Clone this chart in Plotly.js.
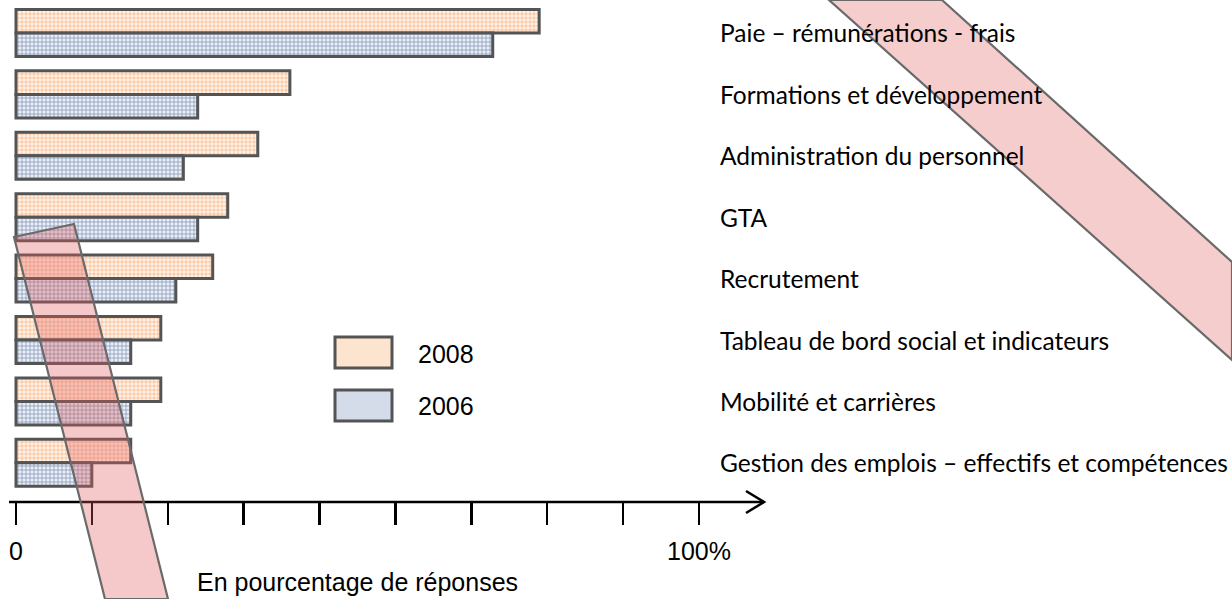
<!DOCTYPE html>
<html>
<head>
<meta charset="utf-8">
<script src="https://cdn.plot.ly/plotly-3.0.1.min.js"></script>
<style>html,body{margin:0;padding:0;background:#fff;}#chart{width:1232px;height:599px;}</style>
</head>
<body>
<div id="chart"></div>
<script>
// ---- data ----
const categories = [
  "Paie – rémunérations - frais",
  "Formations et développement",
  "Administration du personnel",
  "GTA",
  "Recrutement",
  "Tableau de bord social et indicateurs",
  "Mobilité et carrières",
  "Gestion des emplois – effectifs et compétences"
];
const seriesNames = ["2008", "2006"];
const values2008 = [76.6, 40.1, 35.4, 31.0, 28.8, 21.2, 21.2, 16.8];
const values2006 = [69.8, 26.6, 24.5, 26.6, 23.4, 16.8, 16.8, 11.1];
const tickLabels = ["0", "", "", "", "", "", "", "", "", "100%"];
const axisTitle = "En pourcentage de réponses";

// ---- helpers (figure pixel -> paper) ----
const W = 1232, H = 599;
const px = x => x / W;
const py = y => (H - y) / H;
const path = pts => "M " + pts.map(p => px(p[0]).toFixed(5) + "," + py(p[1]).toFixed(5)).join(" L ") + " Z";

const tickVals = tickLabels.map((_, i) => i * 100 / (tickLabels.length - 1));

const border = {color: "#545454", width: 3};
const traces = [
  {
    type: "bar", orientation: "h", name: seriesNames[0],
    y: categories, x: values2008,
    marker: {
      color: "#fff3e8",
      pattern: {shape: "+", fgcolor: "#f4ad7c", bgcolor: "#fff3e9", size: 4, solidity: 0.3},
      line: border
    },
    hoverinfo: "x+y"
  },
  {
    type: "bar", orientation: "h", name: seriesNames[1],
    y: categories, x: values2006,
    marker: {
      color: "#e8edf5",
      pattern: {shape: "+", fgcolor: "#7589ae", bgcolor: "#eaeef6", size: 4, solidity: 0.3},
      line: border
    },
    hoverinfo: "x+y"
  }
];

const annotations = [];
categories.forEach(c => annotations.push({
  xref: "paper", yref: "y", x: px(718), y: c, xanchor: "left", yanchor: "middle",
  text: c, showarrow: false, font: {family: "Lato, Calibri, sans-serif", size: 24.5, color: "#000"}
}));
annotations.push({
  xref: "paper", yref: "paper", x: px(195), y: py(582), xanchor: "left", yanchor: "middle",
  text: axisTitle, showarrow: false, font: {family: "Liberation Sans, Arial, sans-serif", size: 25, color: "#000"}
});
annotations.push({
  xref: "paper", yref: "paper", x: px(416), y: py(354), xanchor: "left", yanchor: "middle",
  text: seriesNames[0], showarrow: false, font: {family: "Liberation Sans, Arial, sans-serif", size: 25, color: "#000"}
});
annotations.push({
  xref: "paper", yref: "paper", x: px(416), y: py(406), xanchor: "left", yanchor: "middle",
  text: seriesNames[1], showarrow: false, font: {family: "Liberation Sans, Arial, sans-serif", size: 25, color: "#000"}
});

const bandLine = {color: "#6a6a6a", width: 2.2};
const shapes = [
  // axis line with arrow
  {type: "line", xref: "paper", yref: "paper", x0: px(9), x1: px(764), y0: py(502), y1: py(502), line: {color: "#000", width: 2.5}, layer: "above"},
  {type: "path", xref: "paper", yref: "paper", path: "M " + px(746) + "," + py(491) + " L " + px(764) + "," + py(502) + " L " + px(746) + "," + py(513), line: {color: "#000", width: 2.5}, layer: "above"},
  // legend boxes
  {type: "rect", xref: "paper", yref: "paper", x0: px(335), x1: px(392), y0: py(337), y1: py(368), fillcolor: "#fde4cf", line: border, layer: "above"},
  {type: "rect", xref: "paper", yref: "paper", x0: px(335), x1: px(392), y0: py(390), y1: py(421), fillcolor: "#d4dbe9", line: border, layer: "above"},
  // diagonal bands
  {type: "path", xref: "paper", yref: "paper", path: path([[14, 237], [74, 224], [168, 599], [105, 599]]), fillcolor: "rgba(225,90,90,0.33)", line: bandLine, layer: "above"},
  {type: "path", xref: "paper", yref: "paper", path: path([[829, 0], [942, 0], [1232, 262], [1232, 360]]), fillcolor: "rgba(225,90,90,0.3)", line: bandLine, layer: "above"}
];

const layout = {
  width: W, height: H,
  margin: {l: 0, r: 0, t: 0, b: 0},
  paper_bgcolor: "#ffffff", plot_bgcolor: "#ffffff",
  showlegend: false,
  barmode: "group", bargap: 0.234, bargroupgap: 0,
  xaxis: {
    range: [-16 / 6.83, (W - 16) / 6.83],
    tickmode: "array", tickvals: tickVals, ticktext: tickLabels,
    ticks: "outside", ticklen: 22, tickwidth: 2.5, tickcolor: "#000",
    showline: false, showgrid: false, zeroline: false,
    tickfont: {family: "Liberation Sans, Arial, sans-serif", size: 25, color: "#000"},
    ticklabelstandoff: 5
  },
  yaxis: {
    domain: [(H - 502) / H, 1],
    autorange: false,
    range: [7.638, -0.537],
    type: "category",
    showticklabels: false, showgrid: false, zeroline: false, showline: false, ticks: ""
  },
  annotations: annotations,
  shapes: shapes
};

Plotly.newPlot("chart", traces, layout, {displayModeBar: false, staticPlot: true});
</script>
</body>
</html>
